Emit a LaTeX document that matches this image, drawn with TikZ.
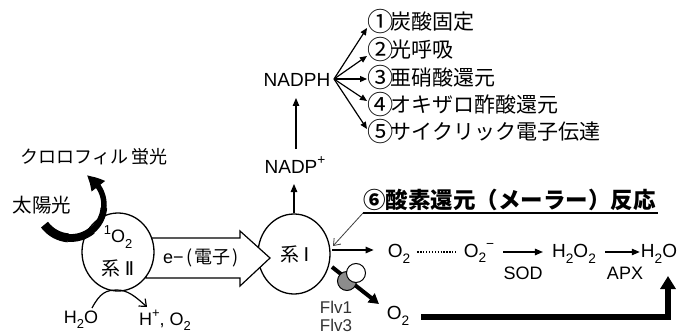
\documentclass[tikz,border=0pt]{standalone}
\usepackage{fontspec}
\usepackage{graphicx}
\setmainfont{Liberation Sans}
\newfontfamily\jp{Noto Sans CJK JP}
\newfontfamily\dv{DejaVu Sans}
\usetikzlibrary{arrows.meta,shapes.geometric,bending}
\newcommand\dn[1]{\raisebox{-0.28em}{\scalebox{0.72}{#1}}}
\newcommand\up[1]{\raisebox{0.45em}{\scalebox{0.72}{#1}}}
\newcommand\cnum[1]{\hspace{-1pt}\raisebox{-0.1em}{\scalebox{1.25}{\jp #1}}\hspace{-3pt}}
\begin{document}
\begin{tikzpicture}[x=1pt,y=-1pt,
  lat/.style={inner sep=0pt, font=\fontsize{19}{21}\selectfont},
  latsm/.style={inner sep=0pt, font=\fontsize{18}{20}\selectfont},
  jtxt/.style={inner sep=0pt, font=\jp\fontsize{19}{21}\selectfont},
  item/.style={inner sep=0pt, anchor=west, font=\jp\fontsize{21}{23}\selectfont},
  ps/.style={draw, line width=1.3pt, fill=white, ellipse, inner sep=0pt},
  arr/.style={line width=1.2pt, -{Triangle[length=8pt,width=6.5pt]}},
  fan/.style={line width=1.2pt, -{Triangle[length=7pt,width=6pt]}},
  heavy/.style={line join=miter, line cap=butt}
]
\useasboundingbox (0,0) rectangle (685,334);
\fill[white] (0,0) rectangle (685,334);

% --- Photosystem I (drawn first so the hollow arrow sits on top) ---
\node[ps, minimum width=72pt, minimum height=80pt] (ps1) at (294,254) {};
\node[jtxt] (s1) at (295,254) {系\hspace{4pt}{\dv Ⅰ}};

% --- hollow electron arrow ---
\draw[line width=1.2pt, fill=white, line join=miter]
  (146,238) -- (240,238) -- (240,231) -- (270,258) -- (240,286) -- (240,278) -- (146,278) -- cycle;
\node[inner sep=0pt, font=\fontsize{18}{20}\selectfont] (el) at (201,258) {e−\hspace{3pt}\jp(\hspace{2pt}電子\hspace{2pt})};

% --- Photosystem II ---
\node[ps, minimum width=72pt, minimum height=78pt] (ps2) at (118,252) {};
\node[latsm] (so) at (118,237) {\up{1}O\dn{2}};
\node[jtxt] (s2) at (118,268) {系\hspace{4pt}{\dv Ⅱ}};

% --- sunlight / fluorescence ---
\node[inner sep=0pt, font=\jp\fontsize{18}{20}\selectfont] (chl) at (94,157) {クロロフィル\hspace{3pt}蛍光};
\node[inner sep=0pt, font=\jp\fontsize{19.5}{21}\selectfont] (sun) at (42,205) {太陽光};
\coordinate (sunc) at (71,205);
\draw[heavy, line width=9pt] (sunc) ++(143.5:33) arc[start angle=143.5, end angle=95, radius=33];
\draw[heavy, line width=7.8pt] (sunc) ++(96:33) arc[start angle=96, end angle=50, radius=33];
\draw[heavy, line width=6.6pt] (sunc) ++(51:33) arc[start angle=51, end angle=5, radius=33];
\draw[heavy, line width=5.5pt, -{Triangle[bend, length=16pt, width=16pt]}]
  (sunc) ++(6:33) arc[start angle=6, end angle=-62, radius=33];

% --- water splitting ---
\node[latsm] (h2o) at (81,320) {H\dn{2}O};
\node[latsm] (hp) at (165,320) {H\up{+}, O\dn{2}};
\coordinate (wa) at (92,308);
\coordinate (wb) at (147,307);
\draw[line width=1.2pt, -{Straight Barb[length=6pt,width=10pt]}]
  (wa) .. controls (100,293) and (106,290) .. (117,290) .. controls (128,290) and (136,297) .. (wb);

% --- NADP ---
\node[lat] (nadpp) at (295,165) {NADP\up{+}};
\node[lat] (nadph) at (297,80) {NADPH};
\coordinate (a1e) at (294,184);
\coordinate (a2s) at (296,149);
\coordinate (a2e) at (296,98);
\draw[arr] (ps1.north) -- (a1e);
\draw[arr] (a2s) -- (a2e);

\node[item] (i1) at (368,22) {\cnum{①}炭酸固定};
\node[item] (i2) at (368,50) {\cnum{②}光呼吸};
\node[item] (i3) at (368,78) {\cnum{③}亜硝酸還元};
\node[item] (i4) at (368,105) {\cnum{④}オキザロ酢酸還元};
\node[item] (i5) at (368,132) {\cnum{⑤}サイクリック電子伝達};
\coordinate (fo) at (334,79);
\draw[fan] (fo) -- ([yshift=-6pt,xshift=-1pt]i1.west);
\draw[fan] (fo) -- ([yshift=-6pt,xshift=-1pt]i2.west);
\draw[fan] (fo) -- ([xshift=-1pt]i3.west |- fo);
\draw[fan] (fo) -- ([yshift=4pt,xshift=-1pt]i4.west);
\draw[fan] (fo) -- ([yshift=3pt,xshift=-1pt]i5.west);

% --- Mehler reaction title ---
\node[inner sep=0pt, anchor=west, font=\jp\bfseries\fontsize{22.5}{24}\selectfont] (title) at (363,200) {⑥酸素還元（メーラー）反応};
\coordinate (ul1) at (363,213);
\coordinate (ul2) at (658,213);
\draw[line width=1.3pt] (ul1) -- (ul2);
\coordinate (s1hit) at (333,246);
\draw[line width=0.8pt, black!75, -{Straight Barb[length=6pt,width=9pt]}] (ul1) -- (s1hit);

% --- upper route ---
\coordinate (s1r) at (332,250);
\node[lat] (o2a) at (399,254) {O\dn{2}};
\draw[arr] (s1r) -- ([xshift=-14pt]o2a.west |- s1r);
\node[lat] (o2m) at (479,253) {O\dn{2}\up{−}};
\draw[line width=1.3pt, dash pattern=on 1.3pt off 1.6pt] ([xshift=7pt]o2a.east |- 0,252) -- ([xshift=-7pt]o2m.west |- 0,252);
\node[lat] (h2o2) at (574,254) {H\dn{2}O\dn{2}};
\node[lat] (h2oe) at (659,254) {H\dn{2}O};
\draw[arr] ([xshift=9pt]o2m.east |- 0,252) -- ([xshift=-9pt]h2o2.west |- 0,252);
\draw[arr] ([xshift=9pt]h2o2.east |- 0,252) -- ([xshift=-1pt]h2oe.west |- 0,252);
\node[latsm] (sod) at (523,273) {SOD};
\node[latsm] (apx) at (625,273) {APX};

% --- Flv route ---
\coordinate (s1d) at (332,267);
\coordinate (flvtip) at (379,304);
\draw[line width=4pt, -{Triangle[length=10pt,width=11pt]}] (s1d) -- (flvtip);
\node[circle, draw, line width=1pt, fill=black!45, minimum size=19pt, inner sep=0pt] (fg) at (347,281) {};
\node[circle, draw, line width=1pt, fill=white, minimum size=19pt, inner sep=0pt] (fw) at (356,273) {};
\node[inner sep=0pt, align=center, text=black!80, font=\fontsize{17}{18}\selectfont] (flv) at (336,316) {Flv1\\Flv3};
\node[lat] (o2b) at (398,316) {O\dn{2}};
\coordinate (h2oin) at (668,276);
\draw[heavy, line width=6pt, -{Triangle[length=13pt,width=15pt]}] ([xshift=12pt]o2b.east |- 0,317) -| (h2oin);
\end{tikzpicture}
\end{document}
